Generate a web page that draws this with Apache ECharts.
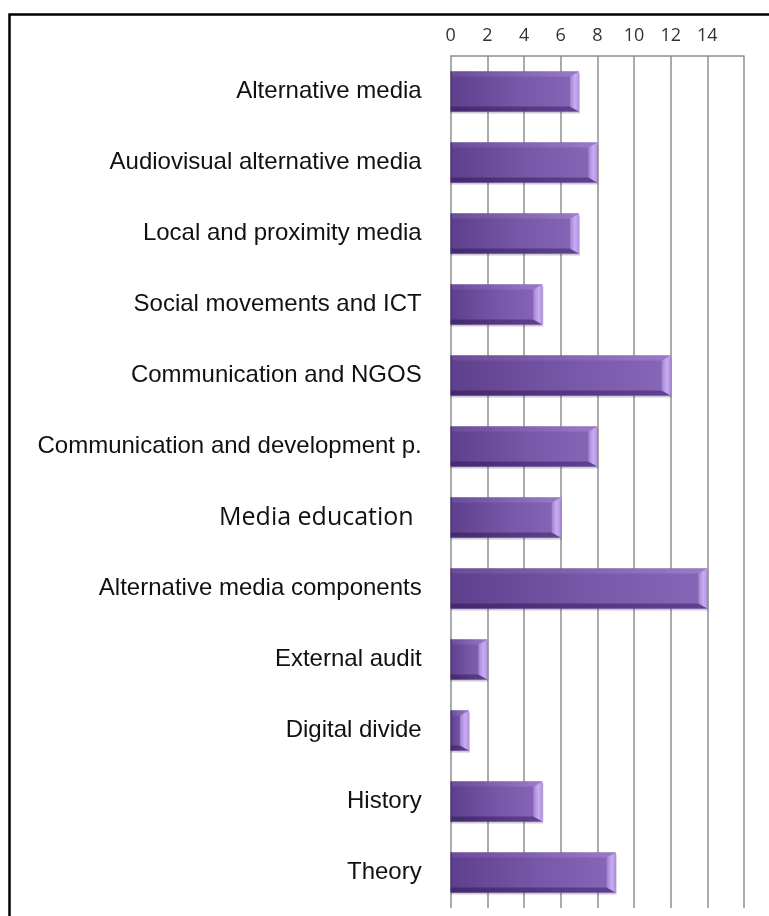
<!DOCTYPE html>
<html>
<head>
<meta charset="utf-8">
<script src="https://cdn.jsdelivr.net/npm/echarts@6/dist/echarts.min.js"></script>
<style>
  html, body { margin: 0; padding: 0; background: #fff; }
  #chart { width: 769px; height: 916px; }
</style>
</head>
<body>
<div id="chart"></div>
<script>
// Topics and the number of items in each
const categories = [
  'Alternative media',
  'Audiovisual alternative media',
  'Local and proximity media',
  'Social movements and ICT',
  'Communication and NGOS',
  'Communication and development p.',
  'Media education',
  'Alternative media components',
  'External audit',
  'Digital divide',
  'History',
  'Theory'
];
const counts = [7, 8, 7, 5, 12, 8, 6, 14, 2, 1, 5, 9];
const tickValues = [0, 2, 4, 6, 8, 10, 12, 14];

const chart = echarts.init(document.getElementById('chart'), null, { renderer: 'canvas' });

// Bevelled horizontal bar: face + top/bottom/right facets
function renderBevelBar(params, api) {
  const cat = api.value(0);
  const val = api.value(1);
  const p0 = api.coord([0, cat]);
  const p1 = api.coord([val, cat]);
  const band = api.size([0, 1])[1];
  const h = band * 0.565;
  const x0 = p0[0], x1 = p1[0];
  const top = p0[1] - h / 2, bot = p0[1] + h / 2;
  const bx = Math.min(9, (x1 - x0) * 0.5), by = 5;
  return {
    type: 'group',
    children: [
      { // soft shadow
        type: 'rect',
        shape: { x: x0, y: top + 2, width: x1 - x0 + 1, height: h },
        style: { fill: 'rgba(60,40,90,0.25)' }
      },
      { // main face
        type: 'rect',
        shape: { x: x0, y: top, width: x1 - x0, height: h },
        style: {
          fill: new echarts.graphic.LinearGradient(0, 0, 1, 0, [
            { offset: 0, color: '#5e3f8d' },
            { offset: 0.55, color: '#7858a8' },
            { offset: 1, color: '#8866b8' }
          ])
        }
      },
      { // top facet
        type: 'polygon',
        shape: { points: [[x0, top], [x1, top], [x1 - bx, top + by], [x0, top + by]] },
        style: {
          fill: new echarts.graphic.LinearGradient(0, 0, 1, 0, [
            { offset: 0, color: '#6a4c98' },
            { offset: 1, color: '#9a7bc8' }
          ])
        }
      },
      { // bottom facet
        type: 'polygon',
        shape: { points: [[x0, bot - by], [x1 - bx, bot - by], [x1, bot], [x0, bot]] },
        style: {
          fill: new echarts.graphic.LinearGradient(0, 0, 1, 0, [
            { offset: 0, color: '#45296e' },
            { offset: 1, color: '#5f4390' }
          ])
        }
      },
      { // right facet
        type: 'polygon',
        shape: { points: [[x1 - bx, top + by], [x1, top], [x1, bot], [x1 - bx, bot - by]] },
        style: {
          fill: new echarts.graphic.LinearGradient(0, 0, 1, 0, [
            { offset: 0, color: '#9f82d0' },
            { offset: 0.55, color: '#c8adf2' },
            { offset: 1, color: '#b093e0' }
          ])
        }
      },
      { // left edge
        type: 'line',
        shape: { x1: x0 + 0.5, y1: top, x2: x0 + 0.5, y2: bot },
        style: { stroke: '#4a2f75', lineWidth: 1 }
      }
    ]
  };
}

chart.setOption({
  animation: false,
  grid: { left: 450.7, right: 25, top: 56, bottom: 8, containLabel: false },
  xAxis: {
    type: 'value',
    position: 'top',
    min: 0,
    max: 16,
    interval: 2,
    axisLine: { show: true, lineStyle: { color: '#8f8f8f', width: 1.5 } },
    axisTick: { show: false },
    axisLabel: {
      margin: 11,
      color: '#333',
      fontFamily: 'Open Sans',
      fontSize: 18,
      formatter: v => (tickValues.indexOf(v) >= 0 ? String(v) : '')
    },
    splitLine: { show: true, lineStyle: { color: '#8f8f8f', width: 1.5 } }
  },
  yAxis: {
    type: 'category',
    inverse: true,
    data: categories,
    axisLine: { show: false },
    axisTick: { show: false },
    splitLine: { show: false },
    axisLabel: {
      margin: 29,
      formatter: v => (v === 'Media education' ? '{c|' + v + '}' : '{a|' + v + '}'),
      rich: {
        a: { fontFamily: 'Liberation Sans', fontSize: 24, color: '#111' },
        c: { fontFamily: 'Open Sans', fontSize: 25, color: '#111', padding: [0, 8, 0, 0] }
      }
    }
  },
  series: [{
    type: 'custom',
    renderItem: renderBevelBar,
    encode: { x: 1, y: 0 },
    data: counts.map((v, i) => [i, v])
  }],
  graphic: [{
    type: 'rect',
    z: 100,
    silent: true,
    shape: { x: 9.5, y: 14.5, width: 900, height: 1000 },
    style: { fill: 'none', stroke: '#000', lineWidth: 2.5 }
  }]
});
</script>
</body>
</html>
